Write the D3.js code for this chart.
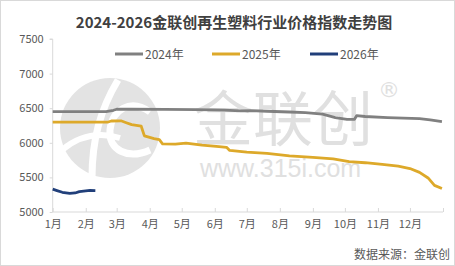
<!DOCTYPE html>
<html><head><meta charset="utf-8">
<script src="https://cdn.jsdelivr.net/npm/d3@7/dist/d3.min.js"></script>
<style>html,body{margin:0;padding:0;background:#fff;}svg{display:block;}</style>
</head><body><svg id="c" width="455" height="266"></svg>
<script>
const titleText = "2024-2026金联创再生塑料行业价格指数走势图";
const sourceText = "数据来源：金联创";
const seriesNames = ["2024年", "2025年", "2026年"];
const seriesColors = ["#808080", "#DDA92A", "#213F7A"];
const monthLabels = ["1月","2月","3月","4月","5月","6月","7月","8月","9月","10月","11月","12月"];
const yTicks = [5000, 5500, 6000, 6500, 7000, 7500];

const dates2024 = ["01-01","02-20","02-27","03-01","03-15","04-15","05-15","06-10","06-25","07-05","07-20","08-10","08-25","09-10","09-22","10-03","10-10","10-12","10-20","11-10","12-10","12-20","12-31"];
const values2024 = [6450,6450,6470,6485,6488,6482,6478,6472,6460,6465,6456,6445,6435,6415,6365,6338,6340,6392,6380,6365,6348,6330,6305];

const dates2025 = ["01-01","02-22","02-25","03-05","03-10","03-15","03-24","03-27","04-05","04-10","04-13","04-25","05-05","05-20","06-05","06-12","06-15","07-01","07-20","08-10","09-01","09-20","10-05","10-20","11-05","11-20","12-01","12-10","12-18","12-24","12-31"];
const values2025 = [6300,6300,6315,6318,6290,6262,6240,6100,6060,6045,5985,5980,5995,5965,5945,5935,5890,5865,5848,5812,5790,5768,5728,5712,5688,5662,5628,5572,5492,5385,5340];

const dates2026 = ["01-01","01-05","01-10","01-17","01-22","01-26","02-01","02-05","02-10"];
const values2026 = [5330,5310,5285,5270,5275,5295,5305,5312,5310];

const svg = d3.select("#c");
const W = 455, H = 266;
const m = {left: 52.7, right: 443, top: 39, bottom: 212};

const parse = s => new Date(2024, +s.slice(0,2)-1, +s.slice(3,5));
const x = d3.scaleTime().domain([new Date(2024,0,1), new Date(2025,0,1)]).range([m.left, m.right]);
const y = d3.scaleLinear().domain([5000, 7500]).range([m.bottom, m.top]);

// frame
svg.append("rect").attr("x",0.5).attr("y",0.5).attr("width",W-1).attr("height",H-1)
  .attr("fill","#fff").attr("stroke","#d9d9d9");

// watermark
const wm = svg.append("g");
wm.append("circle").attr("cx",110).attr("cy",128).attr("r",50).attr("fill","#e3e3e3");
wm.append("path").attr("d","M118,80 C100,110 92,140 92,178").attr("stroke","#fff").attr("stroke-width",7).attr("fill","none");
wm.append("path").attr("d","M150,112 C130,98 112,110 110,130 C108,150 128,160 150,150").attr("stroke","#fff").attr("stroke-width",7).attr("fill","none");
wm.append("path").attr("d","M62,150 C80,135 100,132 120,138").attr("stroke","#fff").attr("stroke-width",6).attr("fill","none");
wm.append("text").attr("x",193).attr("y",141).attr("font-family","Liberation Sans, Noto Sans CJK SC").attr("font-size",60)
  .attr("fill","#e0e0e0").text("金联创");
wm.append("text").attr("x",378).attr("y",97).attr("font-family","DejaVu Sans").attr("font-size",22)
  .attr("fill","#e0e0e0").text("®");
wm.append("text").attr("x",200).attr("y",177).attr("font-family","Liberation Sans").attr("font-size",25)
  .attr("fill","#e0e0e0").text("www.315i.com");

// title
svg.append("text").attr("x",234).attr("y",28).attr("text-anchor","middle")
  .attr("font-family","Noto Sans CJK SC").attr("font-weight","bold").attr("font-size",15)
  .attr("fill","#404040").text(titleText);

// y axis
const yAxis = d3.axisLeft(y).tickValues(yTicks).tickSize(3).tickPadding(6).tickFormat(d3.format("d"));
const gy = svg.append("g").attr("transform",`translate(${m.left},0)`).call(yAxis);
gy.select(".domain").attr("stroke","#d9d9d9").attr("d",`M-3,${m.top}H0V${m.bottom}`);
gy.selectAll(".tick line").attr("stroke","#d9d9d9");
gy.selectAll("text").attr("font-family","Noto Sans CJK SC").attr("font-size",11).attr("fill","#595959");

// x axis
const monthDates = d3.range(12).map(i => new Date(2024, i, 1)).concat([new Date(2025,0,1)]);
const xAxis = d3.axisBottom(x).tickValues(monthDates).tickSize(-4).tickPadding(8)
  .tickFormat((d,i) => i < 12 ? monthLabels[i] : "");
const gx = svg.append("g").attr("transform",`translate(0,${m.bottom})`).call(xAxis);
gx.select(".domain").attr("stroke","#d9d9d9").attr("d",`M${m.left},0H${m.right}`);
gx.selectAll(".tick line").attr("stroke","#d9d9d9");
gx.selectAll("text").attr("font-family","Noto Sans CJK SC").attr("font-size",11).attr("fill","#595959");

// lines
const line = d3.line().x(d => x(parse(d[0]))).y(d => y(d[1]));
const series = [
  d3.zip(dates2024, values2024),
  d3.zip(dates2025, values2025),
  d3.zip(dates2026, values2026)
];
series.forEach((s,i) => {
  svg.append("path").datum(s).attr("d", line).attr("fill","none")
    .attr("stroke", seriesColors[i]).attr("stroke-width", 2.8).attr("stroke-linejoin","round");
});

// legend
const legX = [115, 212, 310];
seriesNames.forEach((n,i) => {
  const g = svg.append("g").attr("transform",`translate(${legX[i]},54)`);
  g.append("line").attr("x1",0).attr("x2",28).attr("y1",0).attr("y2",0)
    .attr("stroke",seriesColors[i]).attr("stroke-width",3);
  g.append("text").attr("x",30).attr("y",4.5).attr("font-family","Noto Sans CJK SC")
    .attr("font-size",12).attr("fill","#595959").text(n);
});

// source
svg.append("text").attr("x",450).attr("y",259).attr("text-anchor","end")
  .attr("font-family","Noto Sans CJK SC").attr("font-size",12).attr("fill","#595959").text(sourceText);
</script></body></html>
